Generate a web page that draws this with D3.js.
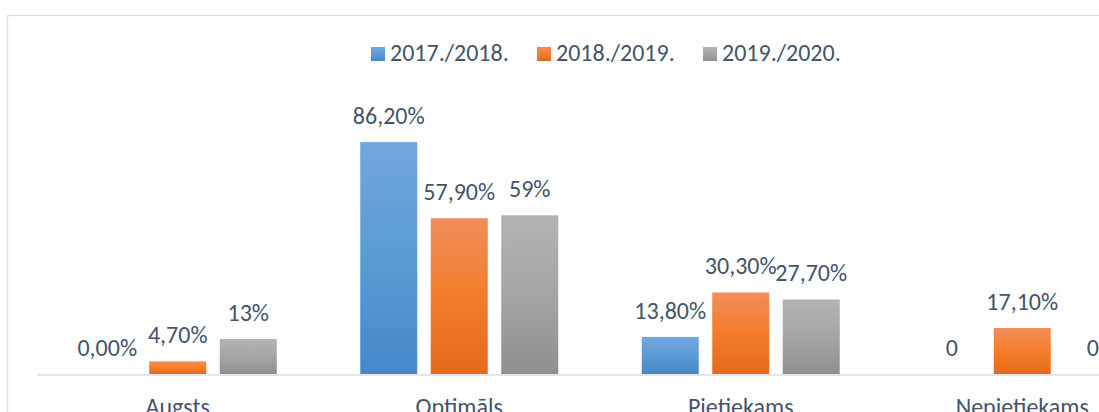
<!DOCTYPE html>
<html>
<head>
<meta charset="utf-8">
<script src="https://cdn.jsdelivr.net/npm/d3@7"></script>
<style>
  html, body { margin: 0; padding: 0; background: #fff; }
  svg { display: block; }
  text { font-family: Carlito, Calibri, Lato, "Open Sans", sans-serif; fill: #44546a; }
</style>
</head>
<body>
<svg id="chart" width="1099" height="412"></svg>
<script>
const categories = ["Augsts", "Optimāls", "Pietiekams", "Nepietiekams"];
const seriesNames = ["2017./2018.", "2018./2019.", "2019./2020."];
const values2017 = [0, 86.2, 13.8, 0];
const values2018 = [4.7, 57.9, 30.3, 17.1];
const values2019 = [13, 59, 27.7, 0];
const labels2017 = ["0,00%", "86,20%", "13,80%", "0"];
const labels2018 = ["4,70%", "57,90%", "30,30%", "17,10%"];
const labels2019 = ["13%", "59%", "27,70%", "0"];

const seriesValues = [values2017, values2018, values2019];
const seriesLabels = [labels2017, labels2018, labels2019];
const gradStops = [
  ["#72a7dd", "#5b9bd5", "#4588ca"],
  ["#f08d5a", "#f47d2a", "#e36a1a"],
  ["#b3b3b3", "#a5a5a5", "#8f8f8f"]
];
const FS = 24;

const svg = d3.select("#chart");
const defs = svg.append("defs");
gradStops.forEach((st, i) => {
  const g = defs.append("linearGradient").attr("id", "g" + i)
    .attr("x1", 0).attr("y1", 0).attr("x2", 0).attr("y2", 1);
  g.append("stop").attr("offset", "0%").attr("stop-color", st[0]);
  g.append("stop").attr("offset", "50%").attr("stop-color", st[1]);
  g.append("stop").attr("offset", "100%").attr("stop-color", st[2]);
});

// chart area border
svg.append("rect")
  .attr("x", 7.5).attr("y", 15.5).attr("width", 1200).attr("height", 500)
  .attr("fill", "#fff").attr("stroke", "#dde1e5").attr("stroke-width", 1.5);

const x0 = d3.scaleBand().domain(categories).range([37, 1163]).paddingInner(0).paddingOuter(0);
const x1 = d3.scaleBand().domain(d3.range(seriesNames.length)).range([0, x0.bandwidth()])
  .paddingInner(0.1915).paddingOuter(0.592);
const y = d3.scaleLinear().domain([0, 100]).range([374, 105]);

const groups = svg.append("g").selectAll("g")
  .data(categories).join("g")
  .attr("transform", d => `translate(${x0(d)},0)`);

groups.each(function(cat, ci) {
  const g = d3.select(this);
  seriesValues.forEach((vals, si) => {
    const v = vals[ci];
    if (v > 0) {
      g.append("rect")
        .attr("x", x1(si)).attr("width", x1.bandwidth())
        .attr("y", y(v)).attr("height", y(0) - y(v))
        .attr("fill", `url(#g${si})`);
    }
    g.append("text")
      .attr("x", x1(si) + x1.bandwidth() / 2)
      .attr("y", y(v) - 18)
      .attr("text-anchor", "middle")
      .attr("font-size", FS)
      .text(seriesLabels[si][ci]);
  });
});

// axis
const axis = svg.append("g").attr("transform", "translate(0,374.5)")
  .call(d3.axisBottom(x0).tickSize(0).tickPadding(0));
axis.select(".domain").attr("stroke", "#d9dde2").attr("stroke-width", 1.5);
axis.selectAll("text")
  .attr("dy", 0).attr("y", 40)
  .attr("font-size", FS)
  .style("font-family", "Carlito, Calibri, Lato, 'Open Sans', sans-serif")
  .attr("fill", "#44546a");

// legend
const legend = svg.append("g").selectAll("g")
  .data(seriesNames).join("g")
  .attr("transform", (d, i) => `translate(${371 + i * 166},0)`);
legend.append("rect")
  .attr("x", 0).attr("y", 47).attr("width", 14).attr("height", 14)
  .attr("fill", (d, i) => `url(#g${i})`);
legend.append("text")
  .attr("x", 19).attr("y", 61)
  .attr("font-size", FS)
  .text(d => d);
</script>
</body>
</html>
